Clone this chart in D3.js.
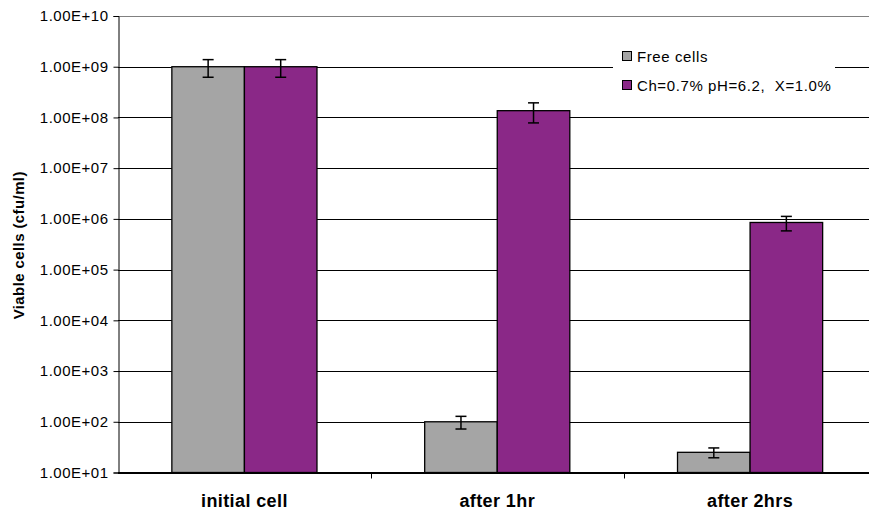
<!DOCTYPE html>
<html><head><meta charset="utf-8">
<script src="https://cdn.jsdelivr.net/npm/d3@7"></script>
<style>
html,body{margin:0;padding:0;background:#fff;}
svg{display:block;font-family:"Liberation Sans",Arial,sans-serif;}
</style></head>
<body><svg id="chart" width="869" height="517"></svg>
<script>
const categories = ["initial cell", "after 1hr", "after 2hrs"];
const seriesNames = ["Free cells", "Ch=0.7% pH=6.2,  X=1.0%"];
const freeCells = [1.0e9, 100, 25];
const freeCellsErr = [0.38e9, 28, 5.5];
const chitosan = [1.0e9, 1.36e8, 0.85e6];
const chitosanErr = [0.38e9, 0.58e8, 0.27e6];
const yTicks = [1e1, 1e2, 1e3, 1e4, 1e5, 1e6, 1e7, 1e8, 1e9, 1e10];
const yTitle = "Viable cells (cfu/ml)";

const colors = ["#A5A5A5", "#8A2887"];
const svg = d3.select("#chart");
const pLeft = 118, pRight = 876.5, pTop = 16, pBottom = 472.5;

const y = d3.scaleLog().domain([1e1, 1e10]).range([pBottom, pTop]);
const x0 = d3.scaleBand().domain(categories).range([pLeft, pRight]).padding(0);
const bw = x0.bandwidth();
const x1 = d3.scaleBand().domain(seriesNames).range([bw * 0.213, bw * 0.787]).padding(0);

const fmt = v => {
  const e = Math.round(Math.log10(v));
  return "1.00E+" + (e < 10 ? "0" + e : e);
};

// gridlines
svg.append("g").selectAll("line").data(yTicks).join("line")
  .attr("x1", pLeft).attr("x2", 869)
  .attr("y1", d => Math.round(y(d)) + 0.5).attr("y2", d => Math.round(y(d)) + 0.5)
  .attr("stroke", d => d === 1e10 ? "#808080" : "#000").attr("stroke-width", 1);

// y axis
const yAxis = d3.axisLeft(y).tickValues(yTicks).tickFormat(fmt).tickSize(5).tickPadding(5);
const ga = svg.append("g").attr("transform", `translate(${pLeft + 0.5},0)`).call(yAxis)
  .attr("font-size", null).attr("font-family", null);
ga.select(".domain").attr("stroke", "#000");
ga.selectAll(".tick line").attr("stroke", "#000");
ga.selectAll(".tick text").attr("fill", "#000")
  .style("font-size", "15px").style("letter-spacing", "0.5px")
  .style("font-family", "'Liberation Sans',Arial,sans-serif");

// bars
const data = categories.map((c, i) => ({
  cat: c,
  vals: [
    {s: seriesNames[0], v: freeCells[i], e: freeCellsErr[i], c: colors[0]},
    {s: seriesNames[1], v: chitosan[i], e: chitosanErr[i], c: colors[1]}
  ]
}));
const groups = svg.append("g").selectAll("g").data(data).join("g")
  .attr("transform", d => `translate(${x0(d.cat)},0)`);
groups.selectAll("rect").data(d => d.vals).join("rect")
  .attr("x", d => x1(d.s)).attr("width", x1.bandwidth())
  .attr("y", d => y(d.v)).attr("height", d => pBottom - y(d.v))
  .attr("fill", d => d.c).attr("stroke", "#000").attr("stroke-width", 1.3);

// error bars
const eb = groups.selectAll("g.err").data(d => d.vals).join("g").attr("class", "err");
eb.append("line")
  .attr("x1", d => x1(d.s) + x1.bandwidth() / 2).attr("x2", d => x1(d.s) + x1.bandwidth() / 2)
  .attr("y1", d => y(d.v + d.e)).attr("y2", d => y(d.v - d.e))
  .attr("stroke", "#000").attr("stroke-width", 1.5);
[1, -1].forEach(sg => {
  eb.append("line")
    .attr("x1", d => x1(d.s) + x1.bandwidth() / 2 - 5.5).attr("x2", d => x1(d.s) + x1.bandwidth() / 2 + 5.5)
    .attr("y1", d => y(d.v + sg * d.e)).attr("y2", d => y(d.v + sg * d.e))
    .attr("stroke", "#000").attr("stroke-width", 1.5);
});

// x axis
svg.append("line").attr("x1", pLeft).attr("x2", 869).attr("y1", pBottom + 0.5).attr("y2", pBottom + 0.5)
  .attr("stroke", "#000").attr("stroke-width", 2);
svg.append("g").selectAll("line").data(categories.slice(1)).join("line")
  .attr("x1", d => Math.round(x0(d)) + 0.5).attr("x2", d => Math.round(x0(d)) + 0.5)
  .attr("y1", pBottom).attr("y2", pBottom + 6).attr("stroke", "#000").attr("stroke-width", 1);
svg.append("g").selectAll("text").data(categories).join("text")
  .attr("x", d => x0(d) + bw / 2).attr("y", 507)
  .attr("text-anchor", "middle").attr("font-weight", "bold").attr("font-size", 18)
  .style("letter-spacing", "0.4px")
  .text(d => d);

// y title
svg.append("text").attr("transform", `translate(24,${(pTop + pBottom) / 2 + 1}) rotate(-90)`)
  .attr("text-anchor", "middle").attr("font-weight", "bold").attr("font-size", 15)
  .style("letter-spacing", "0.4px")
  .text(yTitle);

// legend
const lg = svg.append("g");
lg.append("rect").attr("x", 613).attr("y", 40).attr("width", 222).attr("height", 60).attr("fill", "#fff");
const li = lg.selectAll("g").data(seriesNames).join("g")
  .attr("transform", (d, i) => `translate(622,${56 + i * 29})`);
li.append("rect").attr("x", 0.5).attr("y", -4.5).attr("width", 9).attr("height", 9)
  .attr("fill", (d, i) => colors[i]).attr("stroke", "#000").attr("stroke-width", 1);
li.append("text").attr("x", 15).attr("y", 5.5).attr("font-size", 15)
  .style("letter-spacing", "0.6px").style("white-space", "pre").text(d => d);
</script></body></html>
